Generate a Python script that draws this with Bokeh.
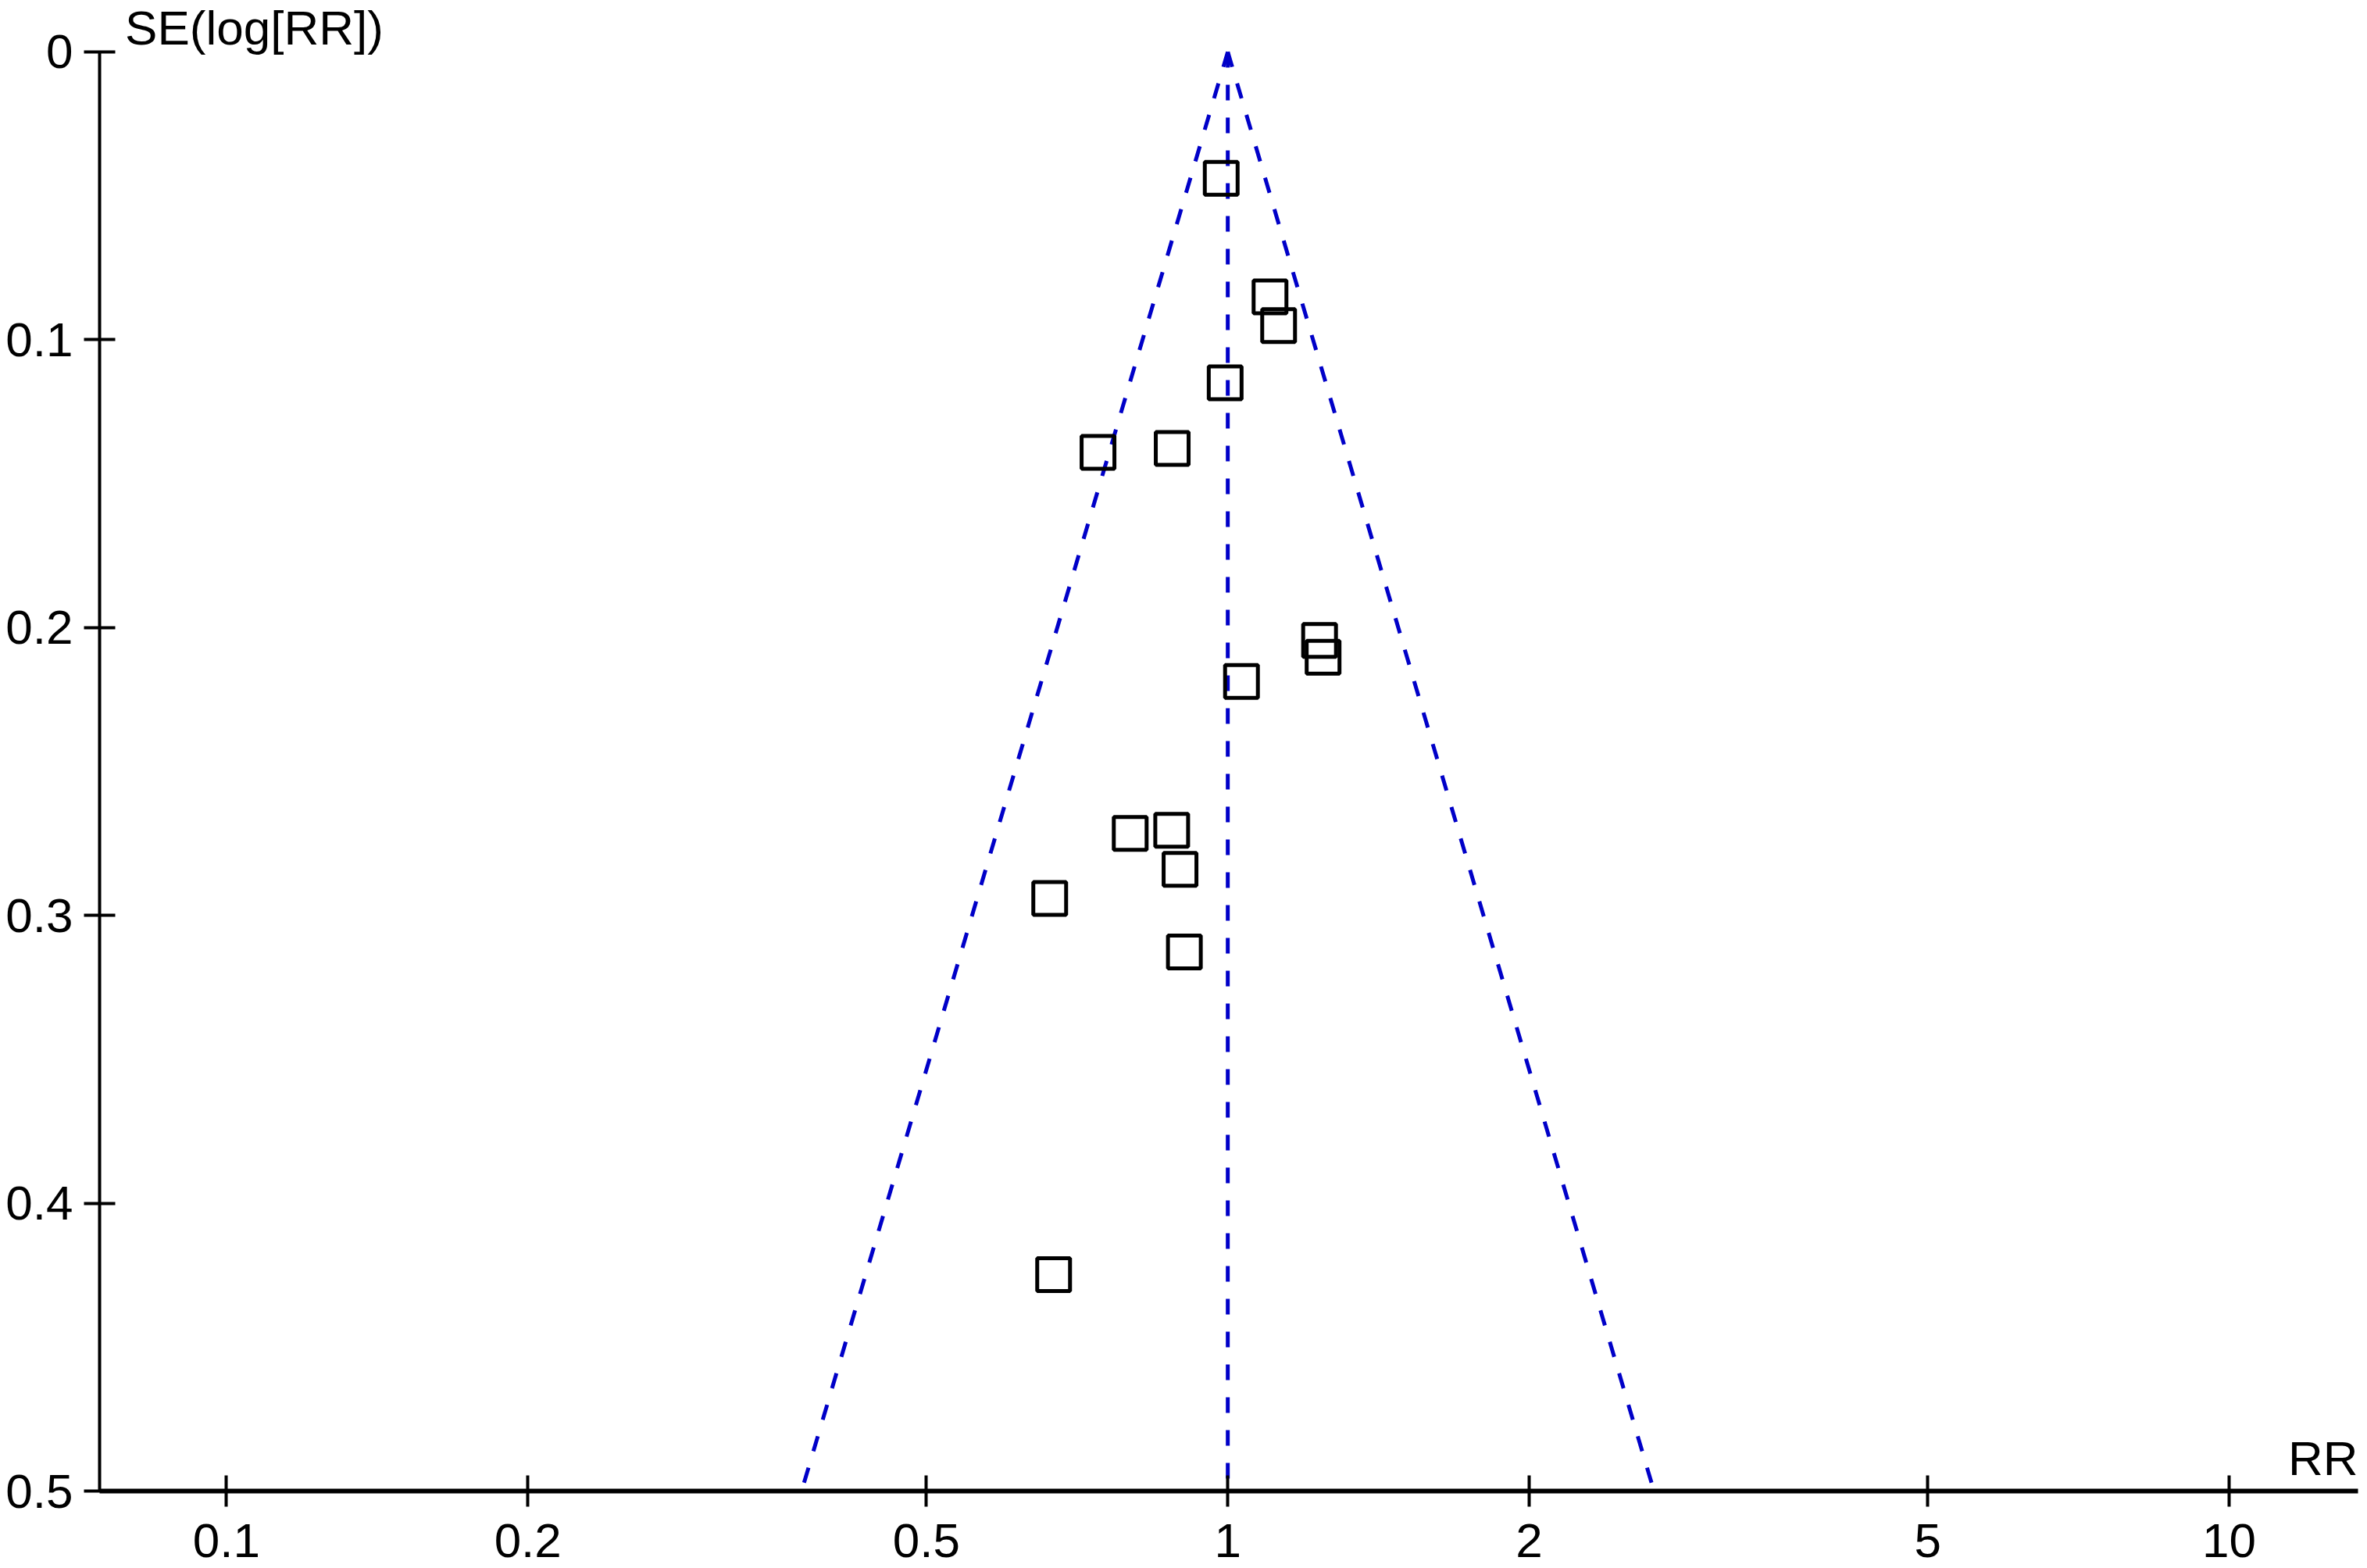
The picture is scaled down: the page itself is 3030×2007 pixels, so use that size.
import numpy as np
from bokeh.plotting import figure
from bokeh.models import Range1d, FixedTicker, Label
from bokeh.embed import file_html
from bokeh.resources import INLINE

# ---- data ----
rr = [0.985, 1.102, 1.124, 0.994, 0.742, 0.880, 1.235, 1.245, 1.032,
      0.799, 0.879, 0.896, 0.664, 0.905, 0.670]
se = [0.0439, 0.0851, 0.0951, 0.1150, 0.1391, 0.1378, 0.2045, 0.2103, 0.2187,
      0.2715, 0.2704, 0.2840, 0.2941, 0.3127, 0.4248]
pooled_rr = 1.0
se_max = 0.5
x_ticks = [0.1, 0.2, 0.5, 1, 2, 5, 10]
x_tick_labels = ["0.1", "0.2", "0.5", "1", "2", "5", "10"]
y_ticks = [0, 0.1, 0.2, 0.3, 0.4, 0.5]
y_tick_labels = ["0", "0.1", "0.2", "0.3", "0.4", "0.5"]

FONT = "Liberation Sans"
FS = "62px"
BLUE = "#0000C8"

x_lo, x_hi = 0.0747, 13.45
y_top = -0.0179   # headroom above SE = 0 for the axis title

p = figure(width=3028, height=2007,
           x_axis_type="log",
           x_range=Range1d(x_lo, x_hi), y_range=Range1d(se_max, y_top),
           output_backend="svg", toolbar_location=None,
           min_border_left=127, min_border_right=10,
           min_border_top=0, min_border_bottom=99)
p.outline_line_color = None
p.xgrid.visible = False
p.ygrid.visible = False
p.background_fill_color = "white"
p.border_fill_color = "white"

# funnel lines (pseudo 95% confidence limits)
z = 1.96
lo = pooled_rr * np.exp(-z * se_max)
hi = pooled_rr * np.exp(z * se_max)
dash = dict(line_color=BLUE, line_width=5, line_dash="20 22")
p.line([pooled_rr, lo], [0, se_max], **dash)
p.line([pooled_rr, hi], [0, se_max], **dash)
p.line([pooled_rr, pooled_rr], [0, se_max], **dash)

# studies
p.scatter(rr, se, marker="square", size=42, fill_color=None,
          line_color="black", line_width=5)

# axes
xa = p.xaxis[0]
xa.ticker = FixedTicker(ticks=x_ticks, minor_ticks=[])
xa.major_label_overrides = {t: l for t, l in zip(x_ticks, x_tick_labels)}
xa.major_tick_in = 20
xa.major_tick_out = 20
xa.minor_tick_in = 0
xa.minor_tick_out = 0
xa.axis_line_width = 6
xa.major_tick_line_width = 4
xa.axis_line_color = "black"
xa.major_tick_line_color = "black"
xa.major_label_text_font = FONT
xa.major_label_text_font_size = FS
xa.major_label_text_color = "black"
xa.major_label_text_line_height = 0.8
xa.major_label_standoff = 22

ya = p.yaxis[0]
ya.bounds = (0, se_max)
ya.ticker = FixedTicker(ticks=y_ticks, minor_ticks=[])
ya.major_label_overrides = {t: l for t, l in zip(y_ticks, y_tick_labels)}
ya.major_tick_in = 20
ya.major_tick_out = 20
ya.minor_tick_in = 0
ya.minor_tick_out = 0
ya.axis_line_width = 4
ya.major_tick_line_width = 4
ya.axis_line_color = "black"
ya.major_tick_line_color = "black"
ya.major_label_text_font = FONT
ya.major_label_text_font_size = FS
ya.major_label_text_color = "black"
ya.major_label_standoff = 14

# axis titles
p.add_layout(Label(x=0.0792, y=-0.0083, text="SE(log[RR])",
                   text_font=FONT, text_font_size=FS, text_color="black",
                   text_align="left", text_baseline="alphabetic"))
p.add_layout(Label(x=x_hi, y=0.4886, text="RR",
                   text_font=FONT, text_font_size=FS, text_color="black",
                   text_align="right", text_baseline="alphabetic"))

open("out.html", "w").write(file_html(p, INLINE))
